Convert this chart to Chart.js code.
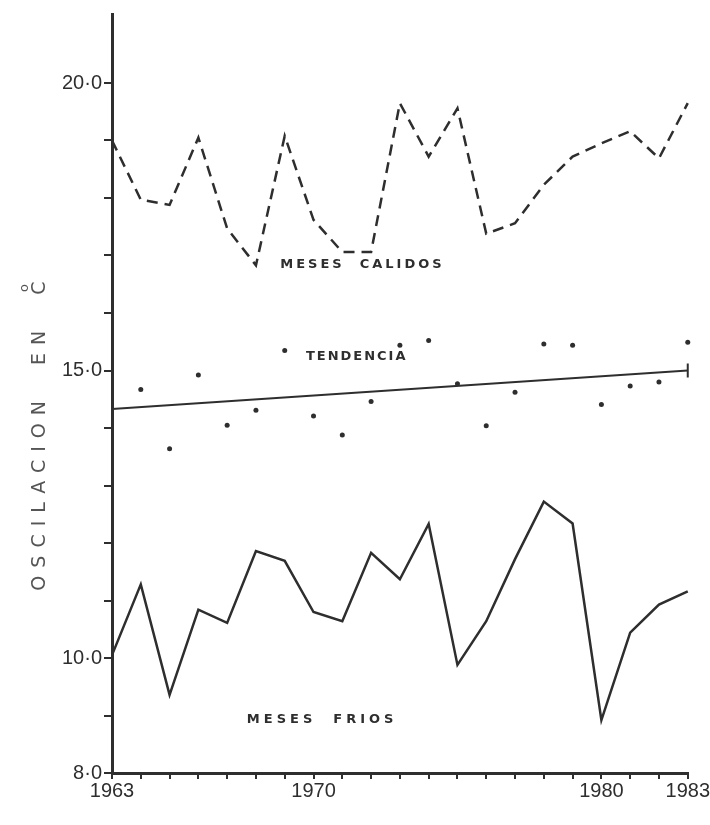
<!DOCTYPE html>
<html lang="es">
<head>
<meta charset="UTF-8">
<title>Oscilacion</title>
<script src="https://cdn.jsdelivr.net/npm/chart.js"></script>
<style>
  body { margin: 0; background: #fff; }
  #wrap { width: 710px; height: 825px; }
</style>
</head>
<body>
<div id="wrap"><canvas id="grafico" width="710" height="825"></canvas></div>
<script>
  // datos
  var anios = [1963, 1964, 1965, 1966, 1967, 1968, 1969, 1970, 1971, 1972, 1973,
               1974, 1975, 1976, 1977, 1978, 1979, 1980, 1981, 1982, 1983];
  var mesesCalidos = [19.0, 17.97, 17.88, 19.05, 17.47, 16.83, 19.08, 17.62, 17.06, 17.06, 19.65,
                      18.72, 19.56, 17.38, 17.56, 18.23, 18.72, 18.95, 19.16, 18.69, 19.65];
  var mesesFrios = [10.05, 11.28, 9.36, 10.84, 10.61, 11.86, 11.69, 10.80, 10.64, 11.83, 11.37,
                    12.33, 9.88, 10.64, 11.72, 12.72, 12.34, 8.92, 10.44, 10.93, 11.16];
  var anual = [null, 14.67, 13.64, 14.92, 14.05, 14.31, 15.35, 14.21, 13.88, 14.46, 15.44,
               15.52, 14.77, 14.04, 14.62, 15.46, 15.44, 14.41, 14.73, 14.80, 15.49];
  var tendencia = [14.33, null, null, null, null, null, null, null, null, null, null,
                   null, null, null, null, null, null, null, null, null, 15.0];
  var aniosVisibles = [1963, 1970, 1980, 1983];
  var valoresVisibles = [8, 10, 15, 20];

  var tinta = '#2e2e2e';

  // textos dentro del grafico (posicion en unidades de los ejes)
  var rotulos = [
    { texto: 'MESES  CALIDOS', x: 1971.7, y: 16.85, espacio: '3px' },
    { texto: 'TENDENCIA', x: 1971.5, y: 15.25, espacio: '2px' },
    { texto: 'MESES  FRIOS', x: 1970.3, y: 8.92, espacio: '4px' }
  ];

  var pluginTextos = {
    id: 'textos',
    afterDatasetsDraw: function (chart) {
      var ctx = chart.ctx;
      var sx = chart.scales.x, sy = chart.scales.y;
      ctx.save();
      ctx.fillStyle = tinta;
      ctx.font = 'bold 13px "DejaVu Sans", sans-serif';
      ctx.textAlign = 'center';
      ctx.textBaseline = 'middle';
      rotulos.forEach(function (r) {
        ctx.letterSpacing = r.espacio;
        var px = sx.left + (r.x - anios[0]) / (anios[anios.length - 1] - anios[0]) * sx.width;
        ctx.fillText(r.texto, px, sy.getPixelForValue(r.y));
      });
      // titulo del eje y
      ctx.translate(40, 432);
      ctx.rotate(-Math.PI / 2);
      ctx.fillStyle = '#555';
      ctx.font = '19px "DejaVu Sans", sans-serif';
      ctx.letterSpacing = '8px';
      ctx.textAlign = 'left';
      var titulo = 'OSCILACION  EN  C';
      var ancho = ctx.measureText(titulo).width;
      var inicio = -ancho / 2;
      ctx.fillText(titulo, inicio, 0);
      var anchoC = ctx.measureText('C').width - 8;
      ctx.font = '13px "DejaVu Sans", sans-serif';
      ctx.letterSpacing = '0px';
      ctx.textAlign = 'center';
      ctx.fillText('o', inicio + ancho - 8 - anchoC / 2, -15);
      ctx.restore();
    }
  };

  var config = {
    type: 'line',
    data: {
      labels: anios,
      datasets: [
        {
          label: 'Meses calidos',
          data: mesesCalidos,
          borderColor: tinta,
          borderWidth: 2.5,
          borderDash: [11, 7],
          pointRadius: 0,
          tension: 0
        },
        {
          label: 'Meses frios',
          data: mesesFrios,
          borderColor: tinta,
          borderWidth: 2.5,
          pointRadius: 0,
          tension: 0
        },
        {
          label: 'Anual',
          data: anual,
          showLine: false,
          pointRadius: 2.5,
          backgroundColor: tinta,
          borderColor: tinta,
          pointBorderWidth: 0
        },
        {
          label: 'Tendencia',
          data: tendencia,
          spanGaps: true,
          borderColor: tinta,
          borderWidth: 2,
          pointStyle: 'line',
          rotation: 90,
          pointBorderWidth: 2,
          pointRadius: function (c) { return c.dataIndex === anios.length - 1 ? 7 : 0; }
        }
      ]
    },
    options: {
      responsive: false,
      animation: false,
      layout: { padding: { top: 8, right: 22, left: 0, bottom: 0 } },
      plugins: { legend: { display: false }, tooltip: { enabled: false } },
      scales: {
        x: {
          type: 'category',
          offset: false,
          grid: { drawOnChartArea: false, drawTicks: true, tickLength: 6, color: tinta, lineWidth: 2 },
          border: { color: tinta, width: 3 },
          ticks: {
            autoSkip: false,
            maxRotation: 0,
            color: tinta,
            padding: 0,
            font: { family: '"Liberation Sans Narrow", "Liberation Sans", sans-serif', size: 20 },
            callback: function (v, i) {
              return aniosVisibles.indexOf(anios[i]) >= 0 ? String(anios[i]) : '';
            }
          },
          afterFit: function (s) { s.height = 52; }
        },
        y: {
          min: 8,
          max: 21.2,
          grid: { drawOnChartArea: false, drawTicks: true, tickLength: 8, color: tinta, lineWidth: 2 },
          border: { color: tinta, width: 3 },
          ticks: {
            stepSize: 1,
            color: tinta,
            padding: 2,
            font: { family: '"Liberation Sans Narrow", "Liberation Sans", sans-serif', size: 20 },
            callback: function (v) {
              return valoresVisibles.indexOf(v) >= 0 ? v.toFixed(1).replace('.', '\u00B7') : '';
            }
          },
          afterBuildTicks: function (s) {
            s.ticks = s.ticks.filter(function (t) { return Number.isInteger(t.value); });
          },
          afterFit: function (s) { s.width = 112; }
        }
      }
    },
    plugins: [pluginTextos]
  };

  new Chart(document.getElementById('grafico'), config);
</script>
</body>
</html>
